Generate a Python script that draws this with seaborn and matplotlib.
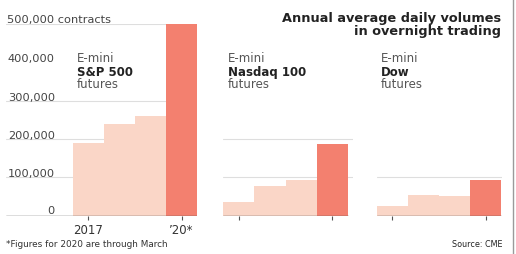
import numpy as np
import pandas as pd
import matplotlib.pyplot as plt
import matplotlib.lines as mlines
import seaborn as sns

sns.set_style('white')
plt.rcParams['font.family'] = ['DejaVu Sans']

# -----------------------

years = ['2017', '2018', '2019', '2020']
sp500 = [189000, 240000, 261000, 500000]
nasdaq = [36000, 77000, 92000, 186000]
dow = [24000, 53000, 51000, 92000]

panels = ['S&P 500', 'Nasdaq 100', 'Dow']
ytick_vals = [0, 100000, 200000, 300000, 400000, 500000]
ytick_labels = ['0', '100,000', '200,000', '300,000', '400,000', '500,000 contracts']
xtick_labels = ['2017', '\u201920*']

light, red = '#FAD6C7', '#F3806F'
palette = dict(zip(years, [light, light, light, red]))

# -----------------------

W, H = 516, 255
fig = plt.figure(figsize=(W / 100, H / 100), dpi=100)

y0_px, y1_px = 216.7, 25.0   # pixel rows of 0 and 500k
unit = 31.1                  # px per bar

def px_axes(x0, x1):
	return fig.add_axes([x0 / W, (H - y0_px) / H, (x1 - x0) / W, (y0_px - y1_px) / H])

# (axes left, axes right, first bar left, baseline right, grid levels)
layout = [
	(6.0, 197.0, 72.7, 197.0, [100000, 200000, 300000, 500000]),
	(223.3, 353.0, 223.3, 347.7, [100000, 200000]),
	(376.7, 501.7, 376.7, 501.0, [100000]),
]

axes = []
for (x0, x1, bx, base_r, grid), vals, name in zip(layout, [sp500, nasdaq, dow], panels):
	ax = px_axes(x0, x1)
	df = pd.DataFrame({'year': years, 'volume': vals})
	sns.barplot(data=df, x='year', y='volume', hue='year', palette=palette,
		width=1, saturation=1, legend=False, linewidth=0, ax=ax, zorder=2)
	left = -0.5 - (bx - x0) / unit
	right = left + (x1 - x0) / unit
	ax.set_xlim(left, right)
	ax.set_ylim(0, 500000)
	for g in grid:
		ax.axhline(g, color='#dedede', lw=0.8, zorder=1)
	ax.axhline(0, xmin=0, xmax=(base_r - x0) / (x1 - x0), color='#555555', lw=1.0, zorder=3)
	for s in ax.spines.values():
		s.set_visible(False)
	ax.set_xticks([0, 3])
	ax.set_xticklabels(['', ''])
	ax.tick_params(axis='x', length=3, width=0.8, color='#555555', pad=2,
		labelsize=8.5, labelcolor='#333333', bottom=True)
	ax.set_yticks([])
	ax.set_xlabel('')
	ax.set_ylabel('')
	ax.patch.set_alpha(0)

	# panel label
	tx = (bx + 4.5 - x0) / (x1 - x0)
	ax.text(tx, 1 - (58.5 - y1_px) / (y0_px - y1_px), 'E-mini', transform=ax.transAxes,
		fontsize=8.5, color='#555555', va='center', ha='left')
	ax.text(tx, 1 - (72.5 - y1_px) / (y0_px - y1_px), name, transform=ax.transAxes,
		fontsize=8.5, color='#222222', fontweight='bold', va='center', ha='left')
	ax.text(tx, 1 - (84.0 - y1_px) / (y0_px - y1_px), 'futures', transform=ax.transAxes,
		fontsize=8.5, color='#555555', va='center', ha='left')
	axes.append(ax)

ax1 = axes[0]
ax1.set_xticklabels(xtick_labels)

# y labels over the grid lines of the first panel
for v, lab in zip(ytick_vals, ytick_labels):
	if v == 500000:
		ax1.annotate(lab, xy=(0, v), xycoords=('axes fraction', 'data'),
			xytext=(1, 1.6), textcoords='offset points', ha='left', va='baseline',
			fontsize=8.2, color='#444444')
	else:
		off = 2.2 if v == 0 else 0.8
		ax1.annotate(lab, xy=((55 - 6) / (197 - 6), v), xycoords=('axes fraction', 'data'),
			xytext=(0, off), textcoords='offset points', ha='right', va='baseline',
			fontsize=8.2, color='#444444')

# title, footnote, source
fig.text(501.5 / W, 1 - 18.5 / H, 'Annual average daily volumes', ha='right', va='center',
	fontsize=9.3, fontweight='bold', color='#222222')
fig.text(501.5 / W, 1 - 32 / H, 'in overnight trading', ha='right', va='center',
	fontsize=9.3, fontweight='bold', color='#222222')
fig.text(6 / W, 1 - 245 / H, '*Figures for 2020 are through March', ha='left', va='center',
	fontsize=6.4, color='#333333')
fig.text(503 / W, 1 - 244.5 / H, 'Source: CME', ha='right', va='center',
	fontsize=5.8, color='#222222')

fig.add_artist(mlines.Line2D([512.5 / W, 512.5 / W], [0, 1], color='#9a9a9a', lw=1.0))

plt.savefig('out.png', dpi=100)
